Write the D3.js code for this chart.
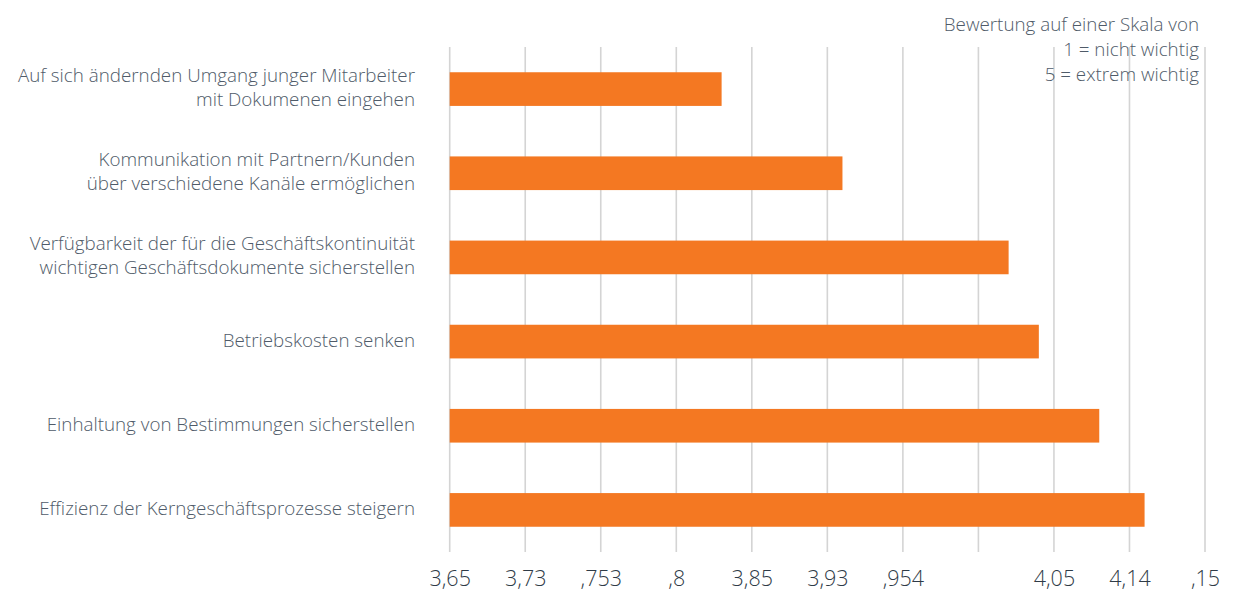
<!DOCTYPE html>
<html>
<head>
<meta charset="utf-8">
<script src="https://cdn.jsdelivr.net/npm/d3@7"></script>
<style>
  body { margin: 0; background: #fff; }
  svg { display: block; }
  .label { font-family: "Open Sans", sans-serif; font-weight: 300; fill: #4f5b69; }
  .tick text { font-family: "Open Sans", sans-serif; font-weight: 300; fill: #2f3b47; }
</style>
</head>
<body>
<svg width="1237" height="591"></svg>
<script>
// categories top to bottom, each label split in lines
const categories = [
    ['Auf sich ändernden Umgang junger Mitarbeiter', 'mit Dokumenen eingehen'],
    ['Kommunikation mit Partnern/Kunden', 'über verschiedene Kanäle ermöglichen'],
    ['Verfügbarkeit der für die Geschäftskontinuität', 'wichtigen Geschäftsdokumente sicherstellen'],
    ['Betriebskosten senken'],
    ['Einhaltung von Bestimmungen sicherstellen'],
    ['Effizienz der Kerngeschäftsprozesse steigern'],
];
const values = [3.83, 3.91, 4.02, 4.04, 4.08, 4.11];
const tickValues = [3.65, 3.70, 3.75, 3.80, 3.85, 3.90, 3.95, 4.00, 4.05, 4.10, 4.15];
// tick labels as printed in the source
const tickLabels = ['3,65', '3,73', ',753', ',8', '3,85', '3,93', ',954', '', '4,05', '4,14', ',15'];
const legendLines = ['Bewertung auf einer Skala von', '1 = nicht wichtig', '5 = extrem wichtig'];

const svg = d3.select('svg');
const keys = categories.map((c, i) => 'c' + i);

const xScale = d3.scaleLinear().domain([3.65, 4.15]).range([449.7, 1205]);
const yScale = d3.scaleBand().domain(keys).range([47, 552]).paddingInner(0.6).paddingOuter(0.3);

// vertical grid lines
svg.append('g')
    .selectAll('line')
    .data(tickValues)
    .enter()
    .append('line')
    .attr('x1', d => xScale(d))
    .attr('x2', d => xScale(d))
    .attr('y1', 47)
    .attr('y2', 552)
    .attr('stroke', '#d4d4d4')
    .attr('stroke-width', 1.6);

// bars start at the left edge of the scale
svg.append('g')
    .selectAll('rect')
    .data(values)
    .enter()
    .append('rect')
    .attr('x', xScale(3.65))
    .attr('y', (d, i) => yScale(keys[i]))
    .attr('width', d => xScale(d) - xScale(3.65))
    .attr('height', yScale.bandwidth())
    .attr('fill', '#f47822');

// category labels, right aligned
const lineH = 24;
svg.append('g')
    .selectAll('text')
    .data(categories)
    .enter()
    .append('text')
    .attr('class', 'label')
    .attr('font-size', 18.8)
    .attr('text-anchor', 'end')
    .attr('x', 415)
    .attr('y', (d, i) => yScale(keys[i]) + yScale.bandwidth() / 2 + 5 - (d.length - 1) * lineH / 2)
    .selectAll('tspan')
    .data(d => d)
    .enter()
    .append('tspan')
    .attr('x', 415)
    .attr('dy', (d, j) => j === 0 ? 0 : lineH)
    .text(d => d);

// x axis, only the labels
const xAxis = d3.axisBottom(xScale)
    .tickValues(tickValues)
    .tickSize(0)
    .tickPadding(0)
    .tickFormat((d, i) => tickLabels[i]);
const axisG = svg.append('g')
    .attr('transform', 'translate(0,571)')
    .call(xAxis);
axisG.select('.domain').remove();
axisG.selectAll('text').attr('font-size', 21.5).attr('dy', '0.72em');

// legend top right
svg.append('text')
    .attr('class', 'label')
    .attr('font-size', 18.8)
    .attr('text-anchor', 'end')
    .attr('x', 1199)
    .attr('y', 31)
    .selectAll('tspan')
    .data(legendLines)
    .enter()
    .append('tspan')
    .attr('x', 1199)
    .attr('dy', (d, j) => j === 0 ? 0 : 25)
    .text(d => d);
</script>
</body>
</html>
